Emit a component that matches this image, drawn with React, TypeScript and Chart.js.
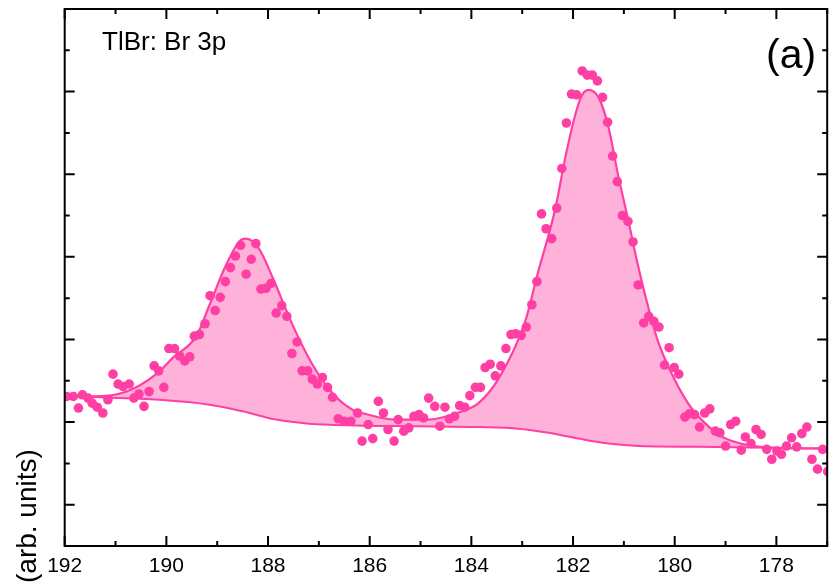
import React, { useEffect, useRef } from 'react';
import { Chart, registerables } from 'chart.js';

Chart.register(...registerables);

// Measured data points (binding energy in eV, intensity in arb. units)
const pointX = [
  191.96, 191.83, 191.73, 191.65, 191.54, 191.46, 191.36, 191.25, 191.15, 191.05,
  190.95, 190.85, 190.73, 190.64, 190.54, 190.44, 190.34, 190.24, 190.15, 190.05,
  189.95, 189.84, 189.74, 189.64, 189.54, 189.45, 189.35, 189.24, 189.14, 189.04,
  188.94, 188.84, 188.74, 188.64, 188.54, 188.43, 188.33, 188.24, 188.14, 188.04,
  187.94, 187.84, 187.73, 187.63, 187.53, 187.43, 187.33, 187.22, 187.13, 187.03,
  186.93, 186.83, 186.73, 186.62, 186.5, 186.37, 186.24, 186.15, 186.03, 185.94,
  185.83, 185.73, 185.64, 185.52, 185.44, 185.33, 185.23, 185.13, 185.03, 184.94,
  184.84, 184.72, 184.62, 184.52, 184.43, 184.33, 184.23, 184.13, 184.03, 183.92,
  183.82, 183.73, 183.63, 183.53, 183.42, 183.32, 183.22, 183.13, 183.02, 182.92,
  182.81, 182.71, 182.62, 182.53, 182.42, 182.32, 182.22, 182.13, 182.03, 181.93,
  181.82, 181.72, 181.62, 181.52, 181.42, 181.32, 181.22, 181.13, 181.03, 180.92,
  180.82, 180.72, 180.61, 180.51, 180.41, 180.31, 180.2, 180.11, 180.01, 179.92,
  179.8, 179.71, 179.61, 179.51, 179.41, 179.31, 179.2, 179.11, 179.0, 178.9,
  178.8, 178.69, 178.61, 178.5, 178.4, 178.3, 178.19, 178.09, 177.99, 177.9,
  177.8, 177.7, 177.6, 177.5, 177.4, 177.3, 177.19, 177.09, 176.99,
];
const pointY = [
  1.31, 1.31, 1.17, 1.33, 1.29, 1.23, 1.18, 1.11, 1.27, 1.58,
  1.46, 1.43, 1.46, 1.29, 1.34, 1.19, 1.37, 1.68, 1.62, 1.42,
  1.89, 1.89, 1.8, 1.74, 1.79, 2.04, 2.06, 2.19, 2.53, 2.35,
  2.51, 2.7, 2.87, 3.01, 3.14, 2.79, 2.97, 3.16, 2.61, 2.62,
  2.68, 2.32, 2.41, 2.28, 1.83, 1.97, 1.62, 1.62, 1.52, 1.46,
  1.54, 1.42, 1.3, 1.04, 1.01, 1.01, 1.11, 0.77, 0.97, 0.8,
  1.25, 1.11, 0.91, 0.77, 1.03, 0.89, 0.93, 1.07, 1.09, 1.05,
  1.29, 1.19, 0.95, 1.18, 1.04, 1.07, 1.2, 1.18, 1.32, 1.42,
  1.42, 1.66, 1.7, 1.56, 1.68, 1.89, 2.06, 2.07, 2.05, 2.15,
  2.42, 2.7, 3.52, 3.34, 3.22, 3.59, 4.07, 4.62, 4.97, 4.96,
  5.25, 5.2, 5.2, 5.13, 4.93, 4.63, 4.22, 3.91, 3.5, 3.43,
  3.18, 2.66, 2.2, 2.28, 2.22, 2.15, 1.69, 1.9, 1.66, 1.58,
  1.06, 1.1, 1.09, 0.94, 1.11, 1.16, 0.89, 0.87, 0.71, 0.97,
  1.01, 0.66, 0.82, 0.74, 0.91, 0.85, 0.67, 0.55, 0.65, 0.61,
  0.71, 0.81, 0.7, 0.86, 0.94, 0.55, 0.43, 0.67, 0.4,
];

// Fit envelope
const fitX = [
  192.0, 191.44, 190.78, 190.2, 189.87, 189.41, 189.15, 188.82, 188.56, 188.43,
  188.17, 187.91, 187.52, 187.13, 186.73, 186.34, 186.15, 185.49, 184.84, 184.18,
  183.86, 183.47, 182.95, 182.69, 182.35, 182.16, 181.96, 181.83, 181.69, 181.5,
  181.31, 181.11, 180.92, 180.72, 180.52, 180.33, 180.07, 179.74, 179.41, 179.09,
  178.76, 178.43, 178.11, 177.58, 177.0,
];
const fitY = [
  1.31, 1.31, 1.37, 1.58, 1.78, 2.04, 2.42, 2.91, 3.19, 3.22,
  3.09, 2.75, 2.18, 1.7, 1.35, 1.15, 1.11, 1.03, 1.03, 1.13,
  1.23, 1.52, 2.2, 2.81, 3.58, 4.18, 4.71, 4.95, 5.02, 4.93,
  4.59, 3.98, 3.46, 2.89, 2.39, 1.98, 1.6, 1.23, 0.99, 0.83,
  0.75, 0.71, 0.69, 0.68, 0.68,
];

// Background (Shirley-type)
const bgX = [192.0, 191.31, 190.13, 189.15, 188.5, 187.84, 187.19, 186.27, 185.03, 183.85, 183.07, 182.48, 181.89, 181.3, 180.72, 179.54, 177.0];
const bgY = [1.31, 1.3, 1.27, 1.21, 1.13, 1.03, 0.98, 0.96, 0.95, 0.94, 0.92, 0.87, 0.8, 0.74, 0.71, 0.7, 0.68];

// Axes
const xTickValues = [192, 190, 188, 186, 184, 182, 180, 178];
const xTickLabels = ['192', '190', '188', '186', '184', '182', '180', '178'];
const xMinorTicks = [191, 189, 187, 185, 183, 181, 179, 177];
const yMajorTicks = [0, 1, 2, 3, 4, 5, 6];
const yMinorTicks = [0.5, 1.5, 2.5, 3.5, 4.5, 5.5];

const panelTitle = 'TlBr: Br 3p';
const panelTag = '(a)';
const yAxisTitle = '(arb. units)';

const FONT = '"Liberation Sans", Arial, Helvetica, sans-serif';
const PINK = '#ff3fa4';
const FILL = '#ffb2d9';

export default function App() {
  const ref = useRef<HTMLCanvasElement>(null);

  useEffect(() => {
    document.body.style.margin = '0';
    const canvas = ref.current;
    if (!canvas) return;

    const framePlugin = {
      id: 'frameTicks',
      afterDraw(chart: any) {
        const { ctx, chartArea: a, scales } = chart;
        const xs = scales.x;
        const ys = scales.y;
        ctx.save();
        ctx.strokeStyle = '#000';
        ctx.lineWidth = 2;
        ctx.beginPath();
        const xt = (v: number, len: number) => {
          const p = xs.getPixelForValue(v);
          if (p < a.left - 1 || p > a.right + 1) return;
          ctx.moveTo(p, a.bottom);
          ctx.lineTo(p, a.bottom - len);
          ctx.moveTo(p, a.top);
          ctx.lineTo(p, a.top + len);
        };
        const yt = (v: number, len: number) => {
          const p = ys.getPixelForValue(v);
          ctx.moveTo(a.left, p);
          ctx.lineTo(a.left + len, p);
          ctx.moveTo(a.right, p);
          ctx.lineTo(a.right - len, p);
        };
        xTickValues.forEach((v) => xt(v, 10));
        xMinorTicks.forEach((v) => xt(v, 5));
        yMajorTicks.forEach((v) => yt(v, 10));
        yMinorTicks.forEach((v) => yt(v, 5));
        ctx.stroke();
        ctx.strokeRect(a.left, a.top, a.right - a.left, a.bottom - a.top);

        ctx.fillStyle = '#000';
        ctx.textBaseline = 'alphabetic';
        ctx.textAlign = 'left';
        ctx.font = `26px ${FONT}`;
        ctx.fillText(panelTitle, 102, 50);
        ctx.font = `41px ${FONT}`;
        ctx.fillText(panelTag, 766, 67.5);

        ctx.save();
        ctx.translate(36, 583);
        ctx.rotate(-Math.PI / 2);
        ctx.font = `28px ${FONT}`;
        ctx.textAlign = 'left';
        ctx.fillText(yAxisTitle, 0, 0);
        ctx.restore();
        ctx.restore();
      },
    };

    const chart = new Chart(canvas, {
      type: 'scatter',
      data: {
        datasets: [
          {
            label: 'background',
            data: bgX.map((x, i) => ({ x, y: bgY[i] })),
            showLine: true,
            borderColor: PINK,
            borderWidth: 2,
            pointRadius: 0,
            fill: false,
            cubicInterpolationMode: 'monotone',
            order: 3,
          },
          {
            label: 'fit',
            data: fitX.map((x, i) => ({ x, y: fitY[i] })),
            showLine: true,
            borderColor: PINK,
            borderWidth: 2.2,
            pointRadius: 0,
            fill: { target: 0 },
            backgroundColor: FILL,
            cubicInterpolationMode: 'monotone',
            order: 2,
          },
          {
            label: 'data',
            data: pointX.map((x, i) => ({ x, y: pointY[i] })),
            showLine: false,
            pointRadius: 4.8,
            pointBackgroundColor: PINK,
            pointBorderWidth: 0,
            backgroundColor: PINK,
            order: 1,
          },
        ] as any,
      },
      options: {
        responsive: false,
        animation: false,
        events: [],
        layout: { padding: { left: 64.7, right: 1, top: 9, bottom: 0 } },
        plugins: {
          legend: { display: false },
          tooltip: { enabled: false },
          filler: { drawTime: 'beforeDatasetsDraw' },
        } as any,
        scales: {
          x: {
            type: 'linear',
            reverse: true,
            min: 177,
            max: 192,
            afterBuildTicks: (s: any) => {
              s.ticks = xTickValues.map((v) => ({ value: v }));
            },
            afterFit: (s: any) => {
              s.height = 38;
            },
            grid: { display: false, drawTicks: false },
            border: { display: false },
            ticks: {
              color: '#000',
              font: { family: FONT, size: 21 },
              padding: 8,
              maxRotation: 0,
              autoSkip: false,
              callback: (v: any) => {
                const i = xTickValues.indexOf(Number(v));
                return i >= 0 ? xTickLabels[i] : '';
              },
            },
          },
          y: {
            type: 'linear',
            display: false,
            min: -0.5,
            max: 6,
          },
        } as any,
      },
      plugins: [framePlugin],
    });

    return () => chart.destroy();
  }, []);

  return (
    <div style={{ position: 'fixed', left: 0, top: 0, width: 832, height: 584, background: '#fff' }}>
      <canvas ref={ref} width={832} height={584} style={{ display: 'block' }} />
    </div>
  );
}
